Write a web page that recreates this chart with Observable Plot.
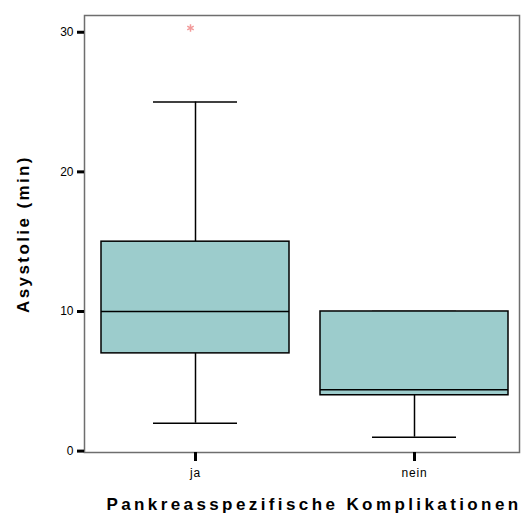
<!DOCTYPE html>
<html>
<head>
<meta charset="utf-8">
<script src="https://cdn.jsdelivr.net/npm/d3@7"></script>
<script src="https://cdn.jsdelivr.net/npm/@observablehq/plot@0.6"></script>
<style>
  html, body { margin: 0; padding: 0; background: #fff; }
  #chart svg { display: block; font-family: "Liberation Sans", Arial, sans-serif; }
  #chart g[aria-label="text"] text {
    font-weight: bold; font-size: 17px; letter-spacing: 3.4px; fill: #000;
  }
  #chart g[aria-label="y-axis label"] text {
    font-weight: bold; font-size: 17px; letter-spacing: 2.4px; fill: #000;
  }
  #chart g[aria-label="x-axis tick label"] text { letter-spacing: 0.8px; }
</style>
</head>
<body>
<div id="chart"></div>
<script>
const groups = ["ja", "nein"];
const whiskerLow = [2, 1];
const q1 = [7, 4];
const median = [10, 4.4];
const q3 = [15, 10];
const whiskerHigh = [25, 10];
const outlierGroups = ["ja"];
const outlierValues = [30.3];
const yTicks = [0, 10, 20, 30];
const xTitle = "Pankreasspezifische Komplikationen";
const yTitle = "Asystolie (min)";

const boxes = groups.map((g, i) => ({
  group: g, lo: whiskerLow[i], q1: q1[i], med: median[i], q3: q3[i], hi: whiskerHigh[i]
}));
const outliers = outlierGroups.map((g, i) => ({group: g, value: outlierValues[i]}));

const fillColor = "#9ccccc";

const chart = Plot.plot({
  width: 525,
  height: 521,
  marginLeft: 84,
  marginRight: 6,
  marginTop: 15,
  marginBottom: 69,
  x: {domain: groups, paddingInner: 0.14, paddingOuter: 0.06, align: 0.6, label: null},
  y: {domain: [-0.1, 31.2], ticks: yTicks, label: null},
  marks: [
    Plot.ruleX(boxes, {x: "group", y1: "lo", y2: "q1", stroke: "#000", strokeWidth: 1.5}),
    Plot.ruleX(boxes, {x: "group", y1: "q3", y2: "hi", stroke: "#000", strokeWidth: 1.5}),
    Plot.tickY(boxes, {x: "group", y: "lo", stroke: "#000", strokeWidth: 1.5, insetLeft: 52, insetRight: 52}),
    Plot.tickY(boxes, {x: "group", y: "hi", stroke: "#000", strokeWidth: 1.5, insetLeft: 52, insetRight: 52}),
    Plot.barY(boxes, {x: "group", y1: "q1", y2: "q3", fill: fillColor, stroke: "#000", strokeWidth: 1.5}),
    Plot.tickY(boxes, {x: "group", y: "med", stroke: "#000", strokeWidth: 1.5}),
    Plot.dot(outliers, {x: "group", y: "value", symbol: "asterisk", r: 3.5, stroke: "#f29a9a", strokeWidth: 1.5, dx: -5}),
    Plot.frame({stroke: "#6e6e6e", strokeWidth: 1.5}),
    Plot.axisY({ticks: yTicks, tickSize: 7, tickPadding: 4, strokeWidth: 3, stroke: "#000", fill: "#000", fontSize: 12,
      label: yTitle, labelAnchor: "center", labelArrow: "none", labelOffset: 68}),
    Plot.axisX({tickSize: 9, tickPadding: 7, strokeWidth: 3, stroke: "#000", fill: "#000", fontSize: 12, label: null}),
    Plot.text([xTitle], {text: d => d, frameAnchor: "bottom", dy: 57, dx: 12})
  ]
});
document.getElementById("chart").appendChild(chart);
</script>
</body>
</html>
